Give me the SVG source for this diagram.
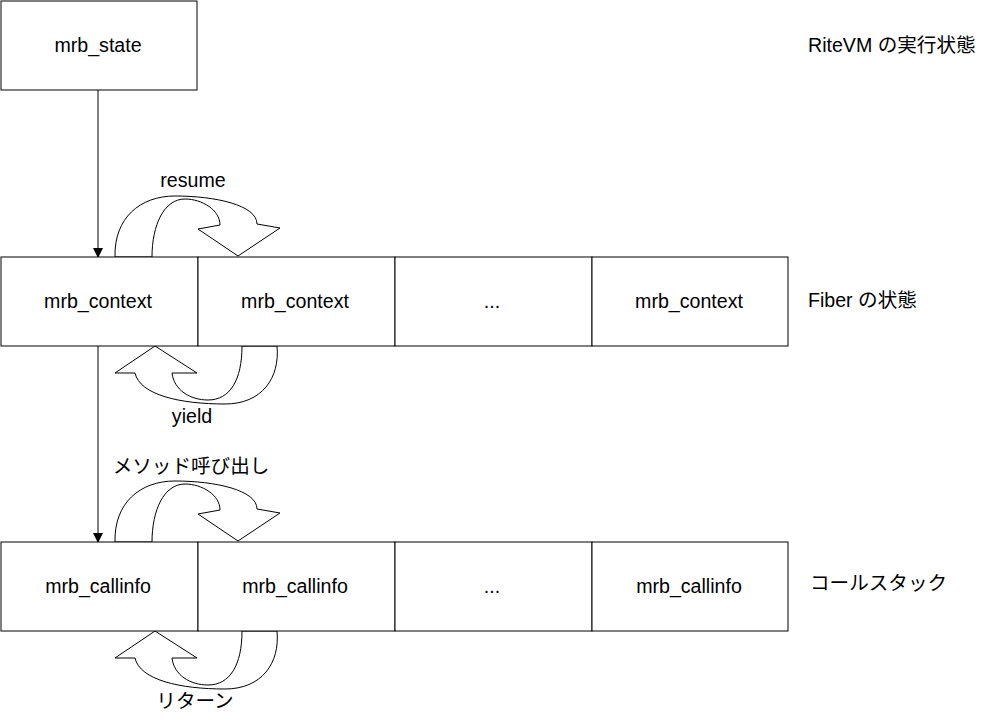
<svg xmlns="http://www.w3.org/2000/svg" width="985" height="720" viewBox="0 0 985 720">
<defs>
<style>
.box{fill:#fff;stroke:#000;stroke-width:1}
.t{font-family:"Liberation Sans","Noto Sans CJK JP",sans-serif;font-size:19.6px;fill:#000;text-anchor:middle}
.l{font-family:"Liberation Sans","Noto Sans CJK JP",sans-serif;font-size:19.6px;fill:#000;text-anchor:start}
.ln{fill:none;stroke:#000;stroke-width:1}
.ca{fill:#fff;stroke:#000;stroke-width:1;stroke-linejoin:miter}
</style>
<marker id="ah" markerWidth="10" markerHeight="10" refX="9" refY="5" orient="auto" markerUnits="userSpaceOnUse">
<path d="M0,0 L10,5 L0,10 Z" fill="#000"/>
</marker>
<path id="down" d="M115,257 C114,218 140,196 175,196 C215,196 257,205 257,224 L280,228 L238,256 L198,229 L220,225 C220,210 202,199 185,199 C164,199 152,225 152,257 Z"/>
<path id="up" d="M155,346 L197,373 L172,373 C174,390 190,400 208,400 C230,400 242,380 242,346 L277,346 C280,378 262,404 225,404 C180,404 140,395 135,373 L115,373 Z"/>
</defs>
<rect width="985" height="720" fill="#fff"/>
<g id="connectors">
<line class="ln" x1="98" y1="90" x2="98" y2="257" marker-end="url(#ah)"/>
<line class="ln" x1="98" y1="346" x2="98" y2="542" marker-end="url(#ah)"/>
<use href="#down" class="ca"/>
<use href="#up" class="ca"/>
<use href="#down" class="ca" transform="translate(0,285)"/>
<use href="#up" class="ca" transform="translate(0,285)"/>
</g>
<g id="mrb_state"><rect class="box" x="1" y="1" width="196" height="89"/><text class="t" x="98" y="52">mrb_state</text></g>
<g id="ctx1"><rect class="box" x="1" y="257" width="197" height="89"/><text class="t" x="98" y="308">mrb_context</text></g>
<g id="ctx2"><rect class="box" x="198" y="257" width="197" height="89"/><text class="t" x="295" y="308">mrb_context</text></g>
<g id="ctx3"><rect class="box" x="395" y="257" width="197" height="89"/><text class="t" x="492" y="308">...</text></g>
<g id="ctx4"><rect class="box" x="592" y="257" width="196" height="89"/><text class="t" x="689" y="308">mrb_context</text></g>
<g id="ci1"><rect class="box" x="1" y="542" width="197" height="89"/><text class="t" x="98" y="593">mrb_callinfo</text></g>
<g id="ci2"><rect class="box" x="198" y="542" width="197" height="89"/><text class="t" x="295" y="593">mrb_callinfo</text></g>
<g id="ci3"><rect class="box" x="395" y="542" width="197" height="89"/><text class="t" x="492" y="593">...</text></g>
<g id="ci4"><rect class="box" x="592" y="542" width="196" height="89"/><text class="t" x="689" y="593">mrb_callinfo</text></g>
<g id="labels">
<text class="t" x="193" y="187">resume</text>
<text class="t" x="192" y="423">yield</text>
<text class="t" x="191" y="473">メソッド呼び出し</text>
<text class="t" x="195" y="708">リターン</text>
<text class="l" x="808" y="52">RiteVM の実行状態</text>
<text class="l" x="808" y="307">Fiber の状態</text>
<text class="l" x="810" y="590">コールスタック</text>
</g>
</svg>
